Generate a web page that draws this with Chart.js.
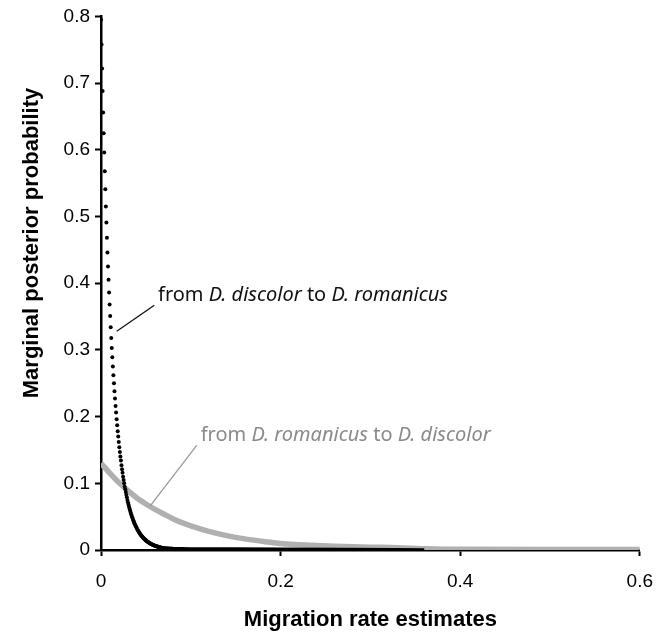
<!DOCTYPE html>
<html>
<head>
<meta charset="utf-8">
<script src="https://cdn.jsdelivr.net/npm/chart.js@4/dist/chart.umd.min.js"></script>
<style>
  body { margin: 0; background: #fff; }
  #wrap { width: 667px; height: 633px; }
</style>
</head>
<body>
<div id="wrap"><canvas id="myChart" width="667" height="633"></canvas></div>
<script>
// Ось X и Y
const xTicks = [0, 0.2, 0.4, 0.6];
const yTicks = [0, 0.1, 0.2, 0.3, 0.4, 0.5, 0.6, 0.7, 0.8];
const xTitle = "Migration rate estimates";
const yTitle = "Marginal posterior probability";

// from D. discolor to D. romanicus (точки с шагом 0.0006)
const discolorStep = 0.0006;
const discolorY = [
  0.795, 0.758, 0.722, 0.688, 0.656, 0.625, 0.596, 0.568, 0.541, 0.515,
  0.491, 0.468, 0.446, 0.425, 0.405, 0.386, 0.368, 0.351, 0.334, 0.318,
  0.303, 0.289, 0.275, 0.262, 0.250, 0.238, 0.227, 0.216, 0.206, 0.196,
  0.187, 0.178, 0.170, 0.162, 0.154, 0.147, 0.140, 0.134, 0.127, 0.121,
  0.116, 0.110, 0.105, 0.100, 0.095, 0.091, 0.087, 0.083, 0.079, 0.075,
  0.0716, 0.0682, 0.065, 0.062, 0.0591, 0.0563, 0.0536, 0.0511, 0.0487, 0.0464,
  0.0443, 0.0422, 0.0402, 0.0383, 0.0365, 0.0348, 0.0332, 0.0316, 0.0301, 0.0287,
  0.0274, 0.0261, 0.0249, 0.0237, 0.0226, 0.0215, 0.0205, 0.0195, 0.0186, 0.0177,
  0.0169, 0.0161, 0.0153, 0.0146, 0.0139, 0.0133, 0.0127, 0.0121, 0.0115, 0.011,
  0.0104, 0.01, 0.0095, 0.009, 0.0086, 0.0082, 0.0078, 0.0075, 0.0071, 0.0068,
  0.0064, 0.006, 0.0058, 0.0056, 0.0053, 0.0051, 0.0048, 0.0046, 0.0044, 0.0042, 0.004
];
// хвост вдоль оси
const discolorTailX = [0.066, 0.08, 0.1, 0.15, 0.2, 0.27, 0.33, 0.36];
const discolorTailY = [0.004, 0.0025, 0.002, 0.0018, 0.0015, 0.0012, 0.0008, 0.0005];

// from D. romanicus to D. discolor
const romanicusX = [0, 0.01, 0.02, 0.03, 0.04, 0.05, 0.06, 0.07, 0.08, 0.09, 0.1,
  0.12, 0.14, 0.16, 0.18, 0.2, 0.22, 0.24, 0.26, 0.28, 0.3, 0.33, 0.36, 0.4, 0.5, 0.6];
const romanicusY = [0.13, 0.115, 0.101, 0.089, 0.078, 0.069, 0.061, 0.054, 0.047, 0.041, 0.0361,
  0.0279, 0.0216, 0.0167, 0.013, 0.0098, 0.008, 0.0066, 0.0056, 0.0048, 0.0042, 0.0035, 0.002, 0.001, 0.0008, 0.0008];

const pts = (xs, ys) => xs.map((x, i) => ({ x: x, y: ys[i] }));
const headPts = discolorY.map((y, i) => ({ x: i * discolorStep, y: y }));

// Подписи со стрелками (в координатах данных)
const labelFont = '"Noto Sans", sans-serif';
const notes = [
  { x: 0.0635, y: 0.373, color: "#111", line: [0.0175, 0.328, 0.0594, 0.367], lineColor: "#111",
    parts: [["from ", false], ["D. discolor", true], [" to ", false], ["D. romanicus", true]] },
  { x: 0.111, y: 0.164, color: "#8a8a8a", line: [0.0546, 0.0657, 0.1066, 0.157], lineColor: "#999",
    parts: [["from ", false], ["D. romanicus", true], [" to ", false], ["D. discolor", true]] },
];

const notesPlugin = {
  id: "notes",
  afterDatasetsDraw(chart) {
    const ctx = chart.ctx;
    const xs = chart.scales.x;
    const ys = chart.scales.y;
    ctx.save();
    notes.forEach((n) => {
      ctx.strokeStyle = n.lineColor;
      ctx.lineWidth = 1.3;
      ctx.beginPath();
      ctx.moveTo(xs.getPixelForValue(n.line[0]), ys.getPixelForValue(n.line[1]));
      ctx.lineTo(xs.getPixelForValue(n.line[2]), ys.getPixelForValue(n.line[3]));
      ctx.stroke();
      let px = xs.getPixelForValue(n.x);
      const py = ys.getPixelForValue(n.y);
      ctx.fillStyle = n.color;
      ctx.textBaseline = "alphabetic";
      n.parts.forEach((p) => {
        ctx.font = (p[1] ? "italic " : "") + "20px " + labelFont;
        ctx.fillText(p[0], px, py);
        px += ctx.measureText(p[0]).width;
      });
    });
    // Подпись оси Y (сдвинута выше центра, как в оригинале)
    ctx.translate(37.5, 243);
    ctx.rotate(-Math.PI / 2);
    ctx.font = 'bold 22px "Liberation Sans", Arial, sans-serif';
    ctx.fillStyle = "#000";
    ctx.textAlign = "center";
    ctx.textBaseline = "alphabetic";
    ctx.fillText(yTitle, 0, 0);
    ctx.restore();
  },
};

const tickFont = { family: '"Liberation Sans", Arial, sans-serif', size: 19 };
const titleFont = { family: '"Liberation Sans", Arial, sans-serif', size: 22, weight: "bold" };

const config = {
  type: "scatter",
  data: {
    datasets: [
      {
        label: "from D. discolor to D. romanicus",
        data: headPts,
        pointRadius: 2,
        pointBackgroundColor: "#000",
        pointBorderWidth: 0,
        showLine: false,
        order: 0,
      },
      {
        label: "tail",
        data: pts(discolorTailX, discolorTailY),
        borderColor: "#000",
        borderWidth: 3,
        pointRadius: 0,
        showLine: true,
        order: 1,
      },
      {
        label: "from D. romanicus to D. discolor",
        data: pts(romanicusX, romanicusY),
        borderColor: "#b0b0b0",
        borderWidth: 5.5,
        pointRadius: 0,
        showLine: true,
        cubicInterpolationMode: "monotone",
        order: 2,
      },
    ],
  },
  options: {
    responsive: false,
    animation: false,
    layout: { padding: { top: 14, right: 27, bottom: 0, left: 0 } },
    scales: {
      x: {
        type: "linear",
        min: 0,
        max: 0.6,
        afterBuildTicks: (s) => { s.ticks = xTicks.map((v) => ({ value: v })); },
        afterFit: (s) => { s.height = 83; },
        ticks: {
          color: "#000",
          font: tickFont,
          padding: 14,
          callback: (v) => (v === 0 ? "0" : v.toFixed(1)),
        },
        grid: { drawOnChartArea: false, tickLength: 6, tickColor: "#000", tickWidth: 2 },
        border: { color: "#000", width: 2.5 },
        title: { display: true, text: xTitle, color: "#000", font: titleFont, padding: { top: 0, bottom: 0 } },
      },
      y: {
        type: "linear",
        min: 0,
        max: 0.8,
        afterBuildTicks: (s) => { s.ticks = yTicks.map((v) => ({ value: v })); },
        afterFit: (s) => { s.width = 101; },
        ticks: {
          color: "#000",
          font: tickFont,
          padding: 5,
          callback: (v) => (v === 0 ? "0" : v.toFixed(1)),
        },
        grid: { drawOnChartArea: false, tickLength: 6, tickColor: "#000", tickWidth: 2 },
        border: { color: "#000", width: 2.5 },
        title: { display: false },
      },
    },
    plugins: {
      legend: { display: false },
      tooltip: { enabled: false },
    },
  },
  plugins: [notesPlugin],
};

myChart = new Chart(document.getElementById("myChart"), config);
</script>
</body>
</html>
